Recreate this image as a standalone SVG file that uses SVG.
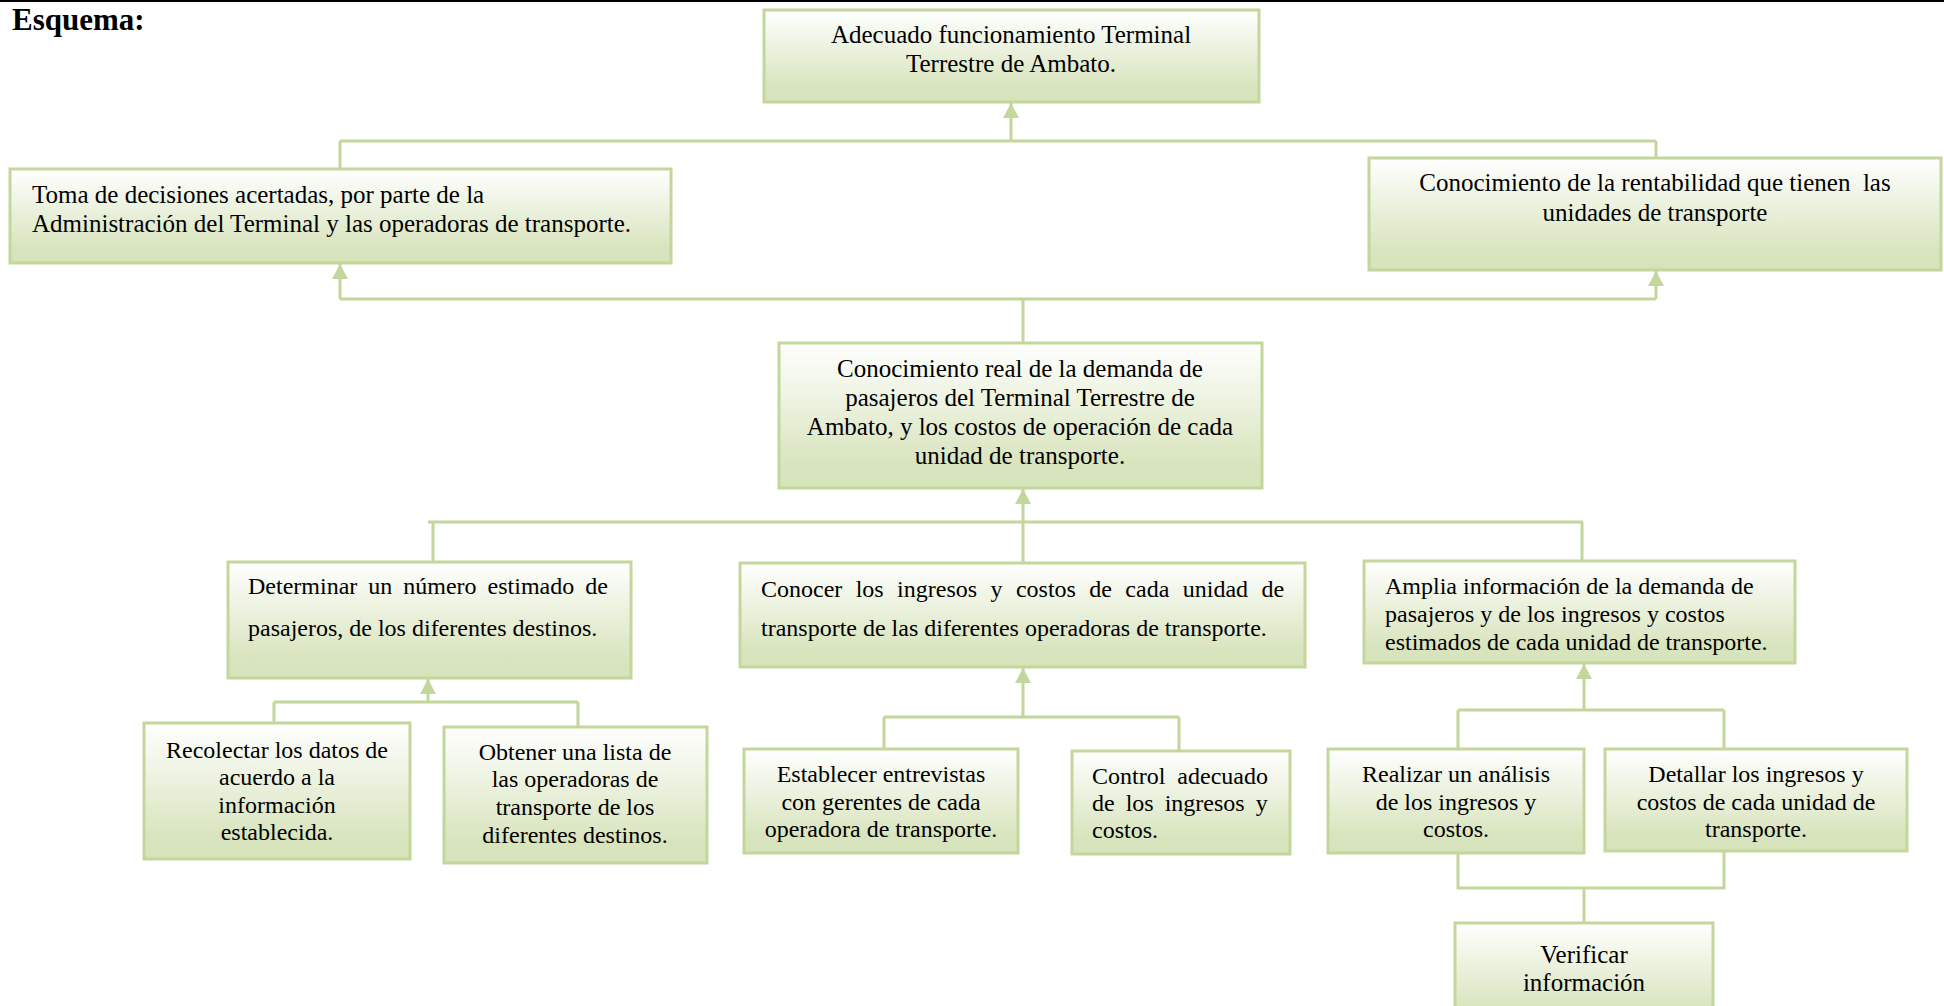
<svg xmlns="http://www.w3.org/2000/svg" width="1944" height="1006" viewBox="0 0 1944 1006">
  <defs>
    <linearGradient id="g" x1="0" y1="0" x2="0" y2="1">
      <stop offset="0" stop-color="#ffffff"/>
      <stop offset="0.85" stop-color="#d8e4bd"/>
      <stop offset="1" stop-color="#d6e3bb"/>
    </linearGradient>
    <marker id="arr" markerUnits="userSpaceOnUse" markerWidth="15" markerHeight="16" refX="15" refY="8" orient="auto">
      <path d="M0,0 L15,8 L0,16 Z" fill="#c3d69b"/>
    </marker>
    <style>
      .box { fill: url(#g); stroke: #c3d69b; stroke-width: 3; }
      .t { font-family: "Liberation Serif", "Times New Roman", serif; font-size: 25px; fill: #000; }
      .s { font-size: 24px; }
      .c { text-anchor: middle; }
      .cn { fill: none; stroke: #c3d69b; stroke-width: 3; }
    </style>
  </defs>
  <rect x="0" y="0" width="1944" height="1006" fill="#ffffff"/>
  <rect x="0" y="0" width="1944" height="2" fill="#000"/>
  <text x="12" y="30" font-family="Liberation Serif, Times New Roman, serif" font-size="31" font-weight="bold">Esquema:</text>

  <g id="connectors">
    <path class="cn" d="M340,141 H1656 M340,141 V169 M1656,141 V158"/>
    <line class="cn" x1="1011" y1="141" x2="1011" y2="103" marker-end="url(#arr)"/>
    <path class="cn" d="M340,299 H1656 M1023,299 V343"/>
    <line class="cn" x1="340" y1="299" x2="340" y2="264" marker-end="url(#arr)"/>
    <line class="cn" x1="1656" y1="299" x2="1656" y2="271" marker-end="url(#arr)"/>
    <path class="cn" d="M428,522 H1583 M433,522 V562 M1023,522 V563 M1582,522 V561"/>
    <line class="cn" x1="1023" y1="522" x2="1023" y2="489" marker-end="url(#arr)"/>
    <path class="cn" d="M274,702 H578 M274,702 V723 M578,702 V727"/>
    <line class="cn" x1="428" y1="702" x2="428" y2="679" marker-end="url(#arr)"/>
    <path class="cn" d="M884,717 H1179 M884,717 V749 M1179,717 V751"/>
    <line class="cn" x1="1023" y1="717" x2="1023" y2="668" marker-end="url(#arr)"/>
    <path class="cn" d="M1458,710 H1724 M1458,710 V749 M1724,710 V749"/>
    <line class="cn" x1="1584" y1="710" x2="1584" y2="664" marker-end="url(#arr)"/>
    <path class="cn" d="M1458,853 V888 H1724 V851 M1584,888 V923"/>
  </g>

  <g id="n1">
    <rect class="box" x="764" y="10" width="495" height="92"/>
    <text class="t c" x="1011" y="43">Adecuado funcionamiento Terminal</text>
    <text class="t c" x="1011" y="72">Terrestre de Ambato.</text>
  </g>
  <g id="n2">
    <rect class="box" x="10" y="169" width="661" height="94"/>
    <text class="t" x="32" y="203">Toma de decisiones acertadas, por parte de la</text>
    <text class="t" x="32" y="232">Administración del Terminal y las operadoras de transporte.</text>
  </g>
  <g id="n3">
    <rect class="box" x="1369" y="158" width="572" height="112"/>
    <text class="t c" x="1655" y="191" xml:space="preserve">Conocimiento de la rentabilidad que tienen  las</text>
    <text class="t c" x="1655" y="221">unidades de transporte</text>
  </g>
  <g id="n4">
    <rect class="box" x="779" y="343" width="483" height="145"/>
    <text class="t c" x="1020" y="377">Conocimiento real de la demanda de</text>
    <text class="t c" x="1020" y="406">pasajeros del Terminal Terrestre de</text>
    <text class="t c" x="1020" y="435">Ambato, y los costos de operación de cada</text>
    <text class="t c" x="1020" y="464">unidad de transporte.</text>
  </g>
  <g id="n5">
    <rect class="box" x="228" y="562" width="403" height="116"/>
    <text class="t s" x="248" y="594" word-spacing="5">Determinar un número estimado de</text>
    <text class="t s" x="248" y="636">pasajeros, de los diferentes destinos.</text>
  </g>
  <g id="n6">
    <rect class="box" x="740" y="563" width="565" height="104"/>
    <text class="t s" x="761" y="597" word-spacing="7.4">Conocer los ingresos y costos de cada unidad de</text>
    <text class="t s" x="761" y="636">transporte de las diferentes operadoras de transporte.</text>
  </g>
  <g id="n7">
    <rect class="box" x="1364" y="561" width="431" height="102"/>
    <text class="t s" x="1385" y="594">Amplia información de la demanda de</text>
    <text class="t s" x="1385" y="622">pasajeros y de los ingresos y costos</text>
    <text class="t s" x="1385" y="650">estimados de cada unidad de transporte.</text>
  </g>
  <g id="n8">
    <rect class="box" x="144" y="723" width="266" height="136"/>
    <text class="t s c" x="277" y="758">Recolectar los datos de</text>
    <text class="t s c" x="277" y="785">acuerdo a la</text>
    <text class="t s c" x="277" y="813">información</text>
    <text class="t s c" x="277" y="840">establecida.</text>
  </g>
  <g id="n9">
    <rect class="box" x="444" y="727" width="263" height="136"/>
    <text class="t s c" x="575" y="760">Obtener una lista de</text>
    <text class="t s c" x="575" y="787">las operadoras de</text>
    <text class="t s c" x="575" y="815">transporte de los</text>
    <text class="t s c" x="575" y="843">diferentes destinos.</text>
  </g>
  <g id="n10">
    <rect class="box" x="744" y="749" width="274" height="104"/>
    <text class="t s c" x="881" y="782">Establecer entrevistas</text>
    <text class="t s c" x="881" y="810">con gerentes de cada</text>
    <text class="t s c" x="881" y="837">operadora de transporte.</text>
  </g>
  <g id="n11">
    <rect class="box" x="1072" y="751" width="218" height="103"/>
    <text class="t s" x="1092" y="784" word-spacing="6">Control adecuado</text>
    <text class="t s" x="1092" y="811" word-spacing="5">de los ingresos y</text>
    <text class="t s" x="1092" y="838">costos.</text>
  </g>
  <g id="n12">
    <rect class="box" x="1328" y="749" width="256" height="104"/>
    <text class="t s c" x="1456" y="782">Realizar un análisis</text>
    <text class="t s c" x="1456" y="810">de los ingresos y</text>
    <text class="t s c" x="1456" y="837">costos.</text>
  </g>
  <g id="n13">
    <rect class="box" x="1605" y="749" width="302" height="102"/>
    <text class="t s c" x="1756" y="782">Detallar los ingresos y</text>
    <text class="t s c" x="1756" y="810">costos de cada unidad de</text>
    <text class="t s c" x="1756" y="837">transporte.</text>
  </g>
  <g id="n14">
    <rect class="box" x="1455" y="923" width="258" height="100"/>
    <text class="t c" x="1584" y="963" font-size="27">Verificar</text>
    <text class="t c" x="1584" y="991" font-size="27">información</text>
  </g>
</svg>
